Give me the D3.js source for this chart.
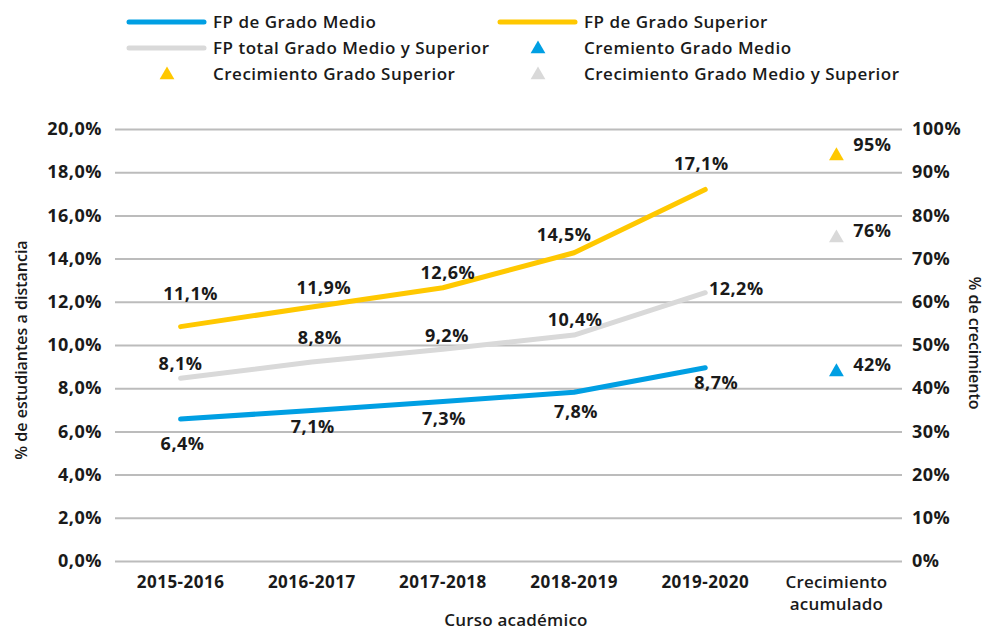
<!DOCTYPE html>
<html>
<head>
<meta charset="utf-8">
<script src="https://cdn.jsdelivr.net/npm/d3@7"></script>
<style>
  body { margin: 0; background: #fff; }
  text { font-family: "Open Sans", sans-serif; fill: #1a1a1a; }
</style>
</head>
<body>
<div id="wrapper"></div>
<script>
// categories on the x axis
const cursos = ["2015-2016", "2016-2017", "2017-2018", "2018-2019", "2019-2020", "Crecimiento acumulado"];
const years = cursos.slice(0, 5);

// line values (% de estudiantes)
const gradoMedio = [6.57, 6.97, 7.38, 7.81, 8.95];
const gradoSuperior = [10.85, 11.76, 12.65, 14.27, 17.2];
const gradoTotal = [8.46, 9.21, 9.8, 10.46, 12.42];

// data labels printed next to the lines
const medioLabels = ["6,4%", "7,1%", "7,3%", "7,8%", "8,7%"];
const superiorLabels = ["11,1%", "11,9%", "12,6%", "14,5%", "17,1%"];
const totalLabels = ["8,1%", "8,8%", "9,2%", "10,4%", "12,2%"];

// accumulated growth (right axis)
const growthNames = ["Cremiento Grado Medio", "Crecimiento Grado Superior", "Crecimiento Grado Medio y Superior"];
const growthValues = [44, 94, 75];
const growthLabels = ["42%", "95%", "76%"];

const leftTicks = [0, 2, 4, 6, 8, 10, 12, 14, 16, 18, 20];
const rightTicks = [0, 10, 20, 30, 40, 50, 60, 70, 80, 90, 100];

const width = 987, height = 633;
const plotLeft = 115, plotRight = 902, plotTop = 129, plotBottom = 561;

const svg = d3.select("#wrapper").append("svg")
  .attr("width", width)
  .attr("height", height);

const x = d3.scaleBand().domain(cursos).range([plotLeft, plotRight]);
const y = d3.scaleLinear().domain([0, 20]).range([plotBottom, plotTop]);
const y2 = d3.scaleLinear().domain([0, 100]).range([plotBottom, plotTop]);
const cx = d => x(d) + x.bandwidth() / 2;

// bold number style used for ticks and data labels
const numStyle = sel => sel.attr("font-size", 18).attr("font-weight", 700)
  .attr("letter-spacing", 0.5).attr("font-family", "Open Sans").attr("fill", "#1a1a1a");

// grid
svg.append("g")
  .attr("transform", `translate(${plotLeft},0)`)
  .call(d3.axisLeft(y).tickValues(leftTicks).tickSize(-(plotRight - plotLeft)).tickFormat(""))
  .call(g => g.select(".domain").remove())
  .call(g => g.selectAll("line").attr("stroke", "#bcbcbc").attr("stroke-width", 2));

// left axis
svg.append("g")
  .attr("transform", `translate(${plotLeft},0)`)
  .call(d3.axisLeft(y).tickValues(leftTicks).tickSize(0).tickPadding(13)
    .tickFormat(d => d.toFixed(1).replace(".", ",") + "%"))
  .call(g => g.select(".domain").remove())
  .call(g => g.selectAll("text").call(numStyle));

// right axis
svg.append("g")
  .attr("transform", `translate(${plotRight},0)`)
  .call(d3.axisRight(y2).tickValues(rightTicks).tickSize(0).tickPadding(10)
    .tickFormat(d => d + "%"))
  .call(g => g.select(".domain").remove())
  .call(g => g.selectAll("text").call(numStyle));

// bottom axis
const xAxis = svg.append("g")
  .attr("transform", `translate(0,${plotBottom})`)
  .call(d3.axisBottom(x).tickSize(0).tickPadding(0).tickFormat(""))
  .call(g => g.select(".domain").remove());
xAxis.selectAll(".tick").each(function(d) {
  const crec = d.startsWith("Crec");
  const t = d3.select(this).append("text")
    .attr("text-anchor", "middle")
    .attr("font-size", 17)
    .attr("letter-spacing", crec ? 0.2 : 0.5)
    .attr("font-weight", crec ? 600 : 700)
    .attr("y", 21);
  const words = crec ? d.split(" ") : [d];
  words.forEach((w, i) => t.append("tspan").attr("x", 0).attr("dy", i === 0 ? "0.35em" : 22).text(w));
});

// axis titles
svg.append("text")
  .attr("transform", `translate(21,350) rotate(-90)`)
  .attr("text-anchor", "middle").attr("dy", "0.35em")
  .attr("font-size", 16).attr("font-weight", 600)
  .text("% de estudiantes a distancia");
svg.append("text")
  .attr("transform", `translate(975,343) rotate(90)`)
  .attr("text-anchor", "middle").attr("dy", "0.35em")
  .attr("font-size", 16).attr("font-weight", 600)
  .text("% de crecimiento");
svg.append("text")
  .attr("x", 516).attr("y", 620)
  .attr("text-anchor", "middle").attr("dy", "0.35em")
  .attr("font-size", 17).attr("font-weight", 600).attr("letter-spacing", 0.2)
  .text("Curso académico");

// lines
const series = [
  { values: gradoSuperior, labels: superiorLabels, color: "#ffc800",
    nudge: [[10, -33], [12, -19], [5, -15], [-10, -18], [-4, -26]] },
  { values: gradoTotal, labels: totalLabels, color: "#d9d9d9",
    nudge: [[0, -15], [8, -24], [4, -14], [1, -15], [31, -4]] },
  { values: gradoMedio, labels: medioLabels, color: "#009fe3",
    nudge: [[2, 25], [1, 16], [1, 17], [2, 19], [11, 15]] }
];

const line = d3.line()
  .x((d, i) => cx(years[i]))
  .y(d => y(d));

series.forEach(s => {
  svg.append("path")
    .datum(s.values)
    .attr("d", line)
    .attr("fill", "none")
    .attr("stroke", s.color)
    .attr("stroke-width", 5)
    .attr("stroke-linecap", "round")
    .attr("stroke-linejoin", "round");
});

series.forEach(s => {
  svg.selectAll(null)
    .data(s.values)
    .enter().append("text")
    .attr("x", (d, i) => cx(years[i]) + s.nudge[i][0])
    .attr("y", (d, i) => y(d) + s.nudge[i][1])
    .attr("dy", "0.35em")
    .attr("text-anchor", "middle")
    .call(numStyle)
    .text((d, i) => s.labels[i]);
});

// growth triangles
const growthColors = ["#009fe3", "#ffc800", "#d9d9d9"];
const tri = d3.symbol().type(d3.symbolTriangle).size(95);
const gx = cx("Crecimiento acumulado");
svg.selectAll(".growth")
  .data(growthValues)
  .enter().append("path")
  .attr("class", "growth")
  .attr("d", tri)
  .attr("transform", d => `translate(${gx},${y2(d) + 1})`)
  .attr("fill", (d, i) => growthColors[i]);
svg.selectAll(".growthLabel")
  .data(growthValues)
  .enter().append("text")
  .attr("x", gx + 36)
  .attr("y", (d, i) => y2(d) + (i === 1 ? -10 : -6))
  .attr("dy", "0.35em")
  .attr("text-anchor", "middle")
  .call(numStyle)
  .text((d, i) => growthLabels[i]);

// legend
const legendItems = [
  { name: "FP de Grado Medio", kind: "line", color: "#009fe3" },
  { name: "FP de Grado Superior", kind: "line", color: "#ffc800" },
  { name: "FP total Grado Medio y Superior", kind: "line", color: "#d9d9d9" },
  { name: growthNames[0], kind: "tri", color: growthColors[0] },
  { name: growthNames[1], kind: "tri", color: growthColors[1] },
  { name: growthNames[2], kind: "tri", color: growthColors[2] }
];
const legend = svg.append("g");
legendItems.forEach((item, i) => {
  const col = i % 2, row = Math.floor(i / 2);
  const g = legend.append("g")
    .attr("transform", `translate(${col === 0 ? 129 : 500},${22 + row * 26})`);
  if (item.kind === "line") {
    g.append("line").attr("x1", 0).attr("x2", 75)
      .attr("stroke", item.color).attr("stroke-width", 5).attr("stroke-linecap", "round");
  } else {
    g.append("path").attr("d", tri).attr("transform", "translate(38,1)").attr("fill", item.color);
  }
  g.append("text").attr("x", 84).attr("dy", "0.35em")
    .attr("font-size", 17).attr("font-weight", 600).attr("letter-spacing", 0.5)
    .text(item.name);
});
</script>
</body>
</html>
